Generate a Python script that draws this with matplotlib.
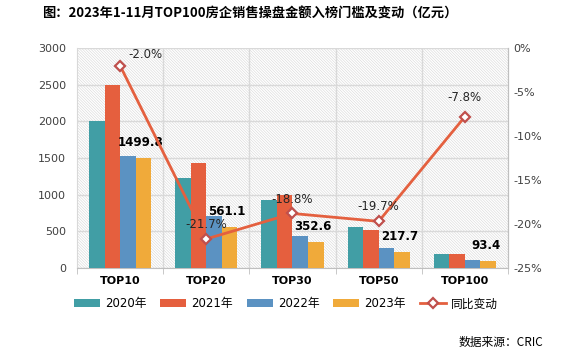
import matplotlib
matplotlib.use("Agg")
import matplotlib.pyplot as plt
import numpy as np
from matplotlib.lines import Line2D
from matplotlib.patches import Patch

plt.rcParams['font.family'] = ['DejaVu Sans', 'Noto Sans CJK SC']
plt.rcParams['hatch.linewidth'] = 0.4
plt.rcParams['hatch.color'] = '#d6d6d6'

categories = ["TOP10", "TOP20", "TOP30", "TOP50", "TOP100"]
v2020 = [2005, 1227, 927, 555, 190]
v2021 = [2496, 1432, 995, 518, 190]
v2022 = [1527, 709, 436, 268, 109]
v2023 = [1499.8, 561.1, 352.6, 217.7, 93.4]
yoy = [-2.0, -21.7, -18.8, -19.7, -7.8]
series_names = ["2020年", "2021年", "2022年", "2023年"]
colors = ["#419EA5", "#E55F3E", "#5B92C2", "#F0AA3A"]
line_color = "#E4603F"
marker_edge = "#C0504D"

fig = plt.figure(figsize=(5.66, 3.64), dpi=100)
ax = fig.add_axes([0.136, 0.2637, 0.7615, 0.6043])

x = np.arange(len(categories))
w = 0.18
for i, (vals, c) in enumerate(zip([v2020, v2021, v2022, v2023], colors)):
    ax.bar(x + (i - 1.5) * w, vals, width=w, color=c, zorder=3)

ax.set_xlim(-0.5, len(categories) - 0.5)
ax.set_ylim(0, 3000)
ax.set_yticks(np.arange(0, 3001, 500))
ax.patch.set_facecolor('white')
ax.patch.set_hatch('\\' * 12)
ax.patch.set_edgecolor('#d6d6d6')
ax.patch.set_linewidth(0)
ax.yaxis.grid(True, color='#d9d9d9', linewidth=1, zorder=1)
ax.set_axisbelow(True)
for b in np.arange(0.5, len(categories) - 0.5, 1):
    ax.axvline(b, color='#d9d9d9', linewidth=1, zorder=1)
ax.set_xticks(x)
ax.set_xticklabels(categories, fontweight='bold', fontsize=8)
ax.set_xticks(np.arange(-0.5, len(categories), 1), minor=True)
ax.tick_params(axis='x', which='major', length=0, pad=6)
ax.tick_params(axis='x', which='minor', length=4, color='#bfbfbf')
ax.tick_params(axis='y', length=0, labelsize=8, labelcolor='#404040', pad=8)
for s in ['top']:
    ax.spines[s].set_visible(False)
ax.spines['left'].set_color('#d9d9d9')
ax.spines['right'].set_color('#bfbfbf')
ax.spines['bottom'].set_color('#bfbfbf')

for xi, v in zip(x, v2023):
    ax.text(xi + 1.5 * w - 0.03, v + 120, f"{v:.1f}", ha='center', va='bottom',
            fontsize=8.5, fontweight='bold', color='black', zorder=6)

ax2 = ax.twinx()
ax2.set_ylim(-25, 0)
ax2.set_yticks(np.arange(-25, 1, 5))
ax2.set_yticklabels([f"{t}%" for t in np.arange(-25, 1, 5)])
ax2.tick_params(axis='y', length=0, labelsize=8, labelcolor='#404040', pad=4)
for s in ['top', 'left', 'bottom']:
    ax2.spines[s].set_visible(False)
ax2.spines['right'].set_color('#bfbfbf')
ax2.plot(x, yoy, color=line_color, linewidth=2, marker='D', markersize=5,
         markerfacecolor='white', markeredgecolor=marker_edge, markeredgewidth=1.6, zorder=5)
offsets = [(0.3, 0.5), (0.0, 0.9), (0.0, 0.9), (0.0, 0.9), (0.0, 1.4)]
for xi, v, (dx, dy) in zip(x, yoy, offsets):
    ax2.text(xi + dx, v + dy, f"{v:.1f}%", ha='center', va='bottom',
             fontsize=8.5, color='#262626', zorder=6)

handles = [Patch(facecolor=c) for c in colors] + [
    Line2D([0], [0], color=line_color, linewidth=2, marker='D', markersize=5,
           markerfacecolor='white', markeredgecolor=marker_edge, markeredgewidth=1.6)]
fig.legend(handles, series_names + ["同比变动"], loc='center', bbox_to_anchor=(0.505, 0.165),
           ncol=5, frameon=False, handlelength=2.2, handleheight=0.7,
           columnspacing=1.2, handletextpad=0.4,
           prop={'family': ['DejaVu Sans', 'Noto Sans CJK SC'], 'size': 8.5})

fig.text(0.442, 0.962, "图：2023年1-11月TOP100房企销售操盘金额入榜门槛及变动（亿元）",
         ha='center', va='center', fontsize=9.5, fontweight='bold',
         family=['Noto Sans CJK SC', 'DejaVu Sans'])
fig.text(0.96, 0.058, "数据来源：CRIC", ha='right', va='center', fontsize=8.5,
         family=['Noto Sans CJK SC', 'DejaVu Sans'])

fig.savefig("out.png", dpi=100)
